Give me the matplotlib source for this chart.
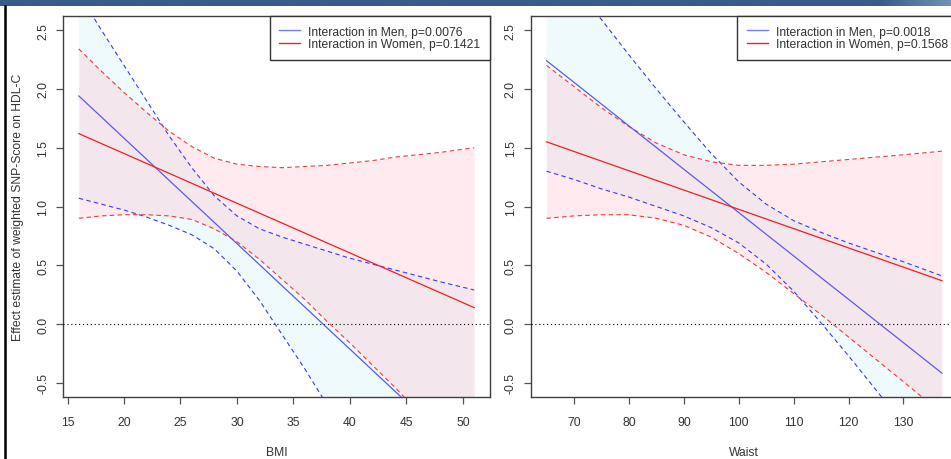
import numpy as np
import matplotlib
matplotlib.use("Agg")
import matplotlib.pyplot as plt
from matplotlib.lines import Line2D

plt.rcParams['font.family'] = ['Liberation Sans', 'DejaVu Sans']

# ---------------- data ----------------
bmi_x = [16, 18, 20, 22, 24, 26, 28, 30, 32, 34, 36, 38, 40, 42, 44, 46, 48, 51]
bmi_men_est = [1.940, 1.761, 1.581, 1.402, 1.222, 1.043, 0.864, 0.684, 0.505,
               0.325, 0.146, -0.034, -0.213, -0.393, -0.572, -0.752, -0.931, -1.200]
bmi_men_hi = [2.81, 2.50, 2.20, 1.90, 1.60, 1.33, 1.09, 0.92, 0.81, 0.74, 0.68,
              0.62, 0.56, 0.51, 0.46, 0.41, 0.36, 0.29]
bmi_men_lo = [1.07, 1.02, 0.97, 0.91, 0.84, 0.76, 0.64, 0.45, 0.20, -0.09, -0.38,
              -0.69, -0.99, -1.30, -1.61, -1.91, -2.22, -2.69]
bmi_women_est = [1.620, 1.535, 1.451, 1.366, 1.282, 1.197, 1.112, 1.028, 0.943,
                 0.859, 0.774, 0.689, 0.605, 0.520, 0.436, 0.351, 0.267, 0.140]
bmi_women_hi = [2.34, 2.15, 1.97, 1.80, 1.64, 1.51, 1.41, 1.36, 1.34, 1.33, 1.34,
                1.35, 1.37, 1.39, 1.42, 1.44, 1.46, 1.50]
bmi_women_lo = [0.90, 0.92, 0.93, 0.93, 0.92, 0.89, 0.81, 0.70, 0.55, 0.38, 0.21,
                0.02, -0.16, -0.35, -0.54, -0.74, -0.93, -1.22]

waist_x = [65, 70, 75, 80, 85, 90, 95, 100, 105, 110, 115, 120, 125, 130, 137]
waist_men_est = [2.240, 2.056, 1.871, 1.686, 1.502, 1.317, 1.133, 0.949, 0.764,
                 0.580, 0.395, 0.211, 0.026, -0.158, -0.417]
waist_men_hi = [3.19, 2.89, 2.59, 2.29, 2.00, 1.72, 1.45, 1.21, 1.02, 0.88, 0.78,
                0.69, 0.61, 0.53, 0.41]
waist_men_lo = [1.30, 1.23, 1.15, 1.08, 1.00, 0.92, 0.82, 0.69, 0.51, 0.28, 0.01,
                -0.27, -0.56, -0.85, -1.27]
waist_women_est = [1.550, 1.468, 1.386, 1.304, 1.222, 1.140, 1.058, 0.976, 0.894,
                   0.812, 0.730, 0.648, 0.566, 0.484, 0.369]
waist_women_hi = [2.20, 2.02, 1.84, 1.68, 1.54, 1.44, 1.38, 1.35, 1.35, 1.36, 1.38,
                  1.40, 1.42, 1.44, 1.47]
waist_women_lo = [0.90, 0.92, 0.93, 0.93, 0.90, 0.84, 0.74, 0.60, 0.44, 0.26, 0.08,
                  -0.11, -0.30, -0.49, -0.76]

bmi_ticks = [15, 20, 25, 30, 35, 40, 45, 50]
waist_ticks = [70, 80, 90, 100, 110, 120, 130]
y_ticks = [-0.5, 0.0, 0.5, 1.0, 1.5, 2.0, 2.5]

bmi_labels = ["Interaction in Men, p=0.0076", "Interaction in Women, p=0.1421"]
waist_labels = ["Interaction in Men, p=0.0018", "Interaction in Women, p=0.1568"]
ylabel = "Effect estimate of weighted SNP-Score on HDL-C"

# ---------------- styling ----------------
FS = 8.7
W, H = 951, 460
fig = plt.figure(figsize=(W / 100, H / 100), dpi=100)
fig.patch.set_facecolor('white')

BLUE_LINE = '#5a5af0'
BLUE_DASH = '#3a3af0'
RED_LINE = '#ee2020'
RED_DASH = '#f03a3a'
BLUE_FILL = '#c8eef8'
RED_FILL = '#ffb8c6'
SPINE = '#404040'


def panel(ax, x, m_est, m_lo, m_hi, w_est, w_lo, w_hi, xlim, xticks, xlabel, labels):
    ax.fill_between(x, m_lo, m_hi, color=BLUE_FILL, alpha=0.28, lw=0, zorder=1)
    ax.fill_between(x, w_lo, w_hi, color=RED_FILL, alpha=0.28, lw=0, zorder=2)
    ax.axhline(0, color='black', lw=0.8, ls=(0, (1, 2.5)), zorder=3)
    dash = (0, (4, 3))
    ax.plot(x, m_hi, color=BLUE_DASH, lw=0.8, ls=dash, zorder=4)
    ax.plot(x, m_lo, color=BLUE_DASH, lw=0.8, ls=dash, zorder=4)
    ax.plot(x, w_hi, color=RED_DASH, lw=0.8, ls=dash, zorder=4)
    ax.plot(x, w_lo, color=RED_DASH, lw=0.8, ls=dash, zorder=4)
    ax.plot(x, m_est, color=BLUE_LINE, lw=0.9, zorder=5)
    ax.plot(x, w_est, color=RED_LINE, lw=0.9, zorder=5)

    ax.set_xlim(*xlim)
    ax.set_ylim(-0.62, 2.62)
    ax.set_xticks(xticks)
    ax.set_xticklabels([str(t) for t in xticks])
    ax.set_yticks(y_ticks)
    ax.set_yticklabels(["%.1f" % t for t in y_ticks], rotation=90, va='center')
    ax.tick_params(axis='x', length=5, width=0.9, color='#555555', pad=9,
                   labelsize=FS, labelcolor='#333333')
    ax.tick_params(axis='y', length=5, width=0.9, color='#555555', pad=5,
                   labelsize=FS, labelcolor='#333333')
    for s in ax.spines.values():
        s.set_color(SPINE)
        s.set_linewidth(1.0)
    ax.set_xlabel(xlabel, fontsize=FS, color='#333333', labelpad=13)

    handles = [Line2D([], [], color='#7a7aff', lw=1.0),
               Line2D([], [], color='#dd2a2a', lw=1.0)]
    leg = ax.legend(handles, labels, loc='upper right', bbox_to_anchor=(1.0, 1.0),
                    borderaxespad=0, fancybox=False, framealpha=1,
                    edgecolor='#333333', fontsize=FS, handlelength=1.75,
                    handletextpad=0.65, borderpad=0.8, labelspacing=0.05)
    leg.get_frame().set_linewidth(1.0)
    for t in leg.get_texts():
        t.set_color('#333333')
    leg.set_zorder(10)


axw = 427 / W
axh = (398 - 17) / H
axb = (H - 398) / H
ax1 = fig.add_axes([63 / W, axb, axw, axh])
ax2 = fig.add_axes([530.7 / W, axb, axw, axh])

panel(ax1, bmi_x, bmi_men_est, bmi_men_lo, bmi_men_hi,
      bmi_women_est, bmi_women_lo, bmi_women_hi,
      (14.6, 52.4), bmi_ticks, "BMI", bmi_labels)
panel(ax2, waist_x, waist_men_est, waist_men_lo, waist_men_hi,
      waist_women_est, waist_women_lo, waist_women_hi,
      (62.12, 139.88), waist_ticks, "Waist", waist_labels)

ax1.set_ylabel(ylabel, fontsize=FS, color='#333333', labelpad=9.5)

# ---------------- screenshot frame ----------------
band = fig.add_axes([0, 1 - 7 / H, 1, 7 / H])
n = 400
grad = np.zeros((1, n, 3))
base = np.array([0x3a, 0x5a, 0x8a]) / 255.0
light = np.array([0x9a, 0xb6, 0xd6]) / 255.0
for i in range(n):
    px = i / n * W
    f = 0.0
    if px > 880:
        f = min(0.6, (px - 880) / 70 * 0.6)
    grad[0, i] = base * (1 - f) + light * f
band.imshow(grad, aspect='auto', extent=(0, 1, 0, 1))
band.set_axis_off()

fig.add_artist(Line2D([4.5 / W, 4.5 / W], [0, 1 - 7 / H], color='black', lw=1.8))

fig.savefig("out.png", dpi=100)
